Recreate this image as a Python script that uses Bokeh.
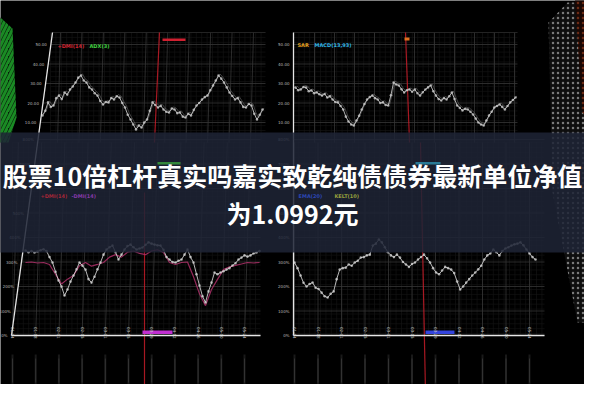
import numpy as np
from bokeh.plotting import figure
from bokeh.models import Range1d
from bokeh.embed import file_html
from bokeh.resources import INLINE
from bokeh.core.properties import value

# ---------------- data ----------------
title_line1 = "股票10倍杠杆真实吗嘉实致乾纯债债券最新单位净值"
title_line2 = "为1.0992元"

# top-left panel (+DMI / ADX)
tl_values = [13.6, 16.0, 20.3, 18.0, 18.7, 22.5, 23.8, 22.0, 25.4, 24.3, 26.9, 28.5, 30.5, 33.0,
             34.1, 31.5, 30.5, 28.0, 26.9, 25.0, 23.8, 21.0, 19.2, 20.5, 20.3, 22.6, 21.8, 23.5,
             22.8, 20.0, 17.7, 14.0, 11.5, 9.0, 6.4, 8.5, 7.4, 10.0, 11.5, 16.0, 20.3, 19.0, 17.7,
             18.5, 16.7, 15.5, 15.1, 17.2, 16.7, 14.8, 15.1, 13.0, 12.6, 14.5, 13.6, 16.5, 18.7,
             20.0, 21.8, 23.0, 23.8, 26.5, 29.0, 31.5, 34.1, 32.5, 30.5, 28.0, 25.4, 23.6, 21.8,
             22.5, 20.3, 18.0, 17.7, 19.5, 18.7, 14.5, 11.5, 14.0, 16.7]
# top-right panel (SAR / MACD)
tr_values = [27.9, 26.5, 26.9, 28.2, 27.9, 26.0, 26.4, 25.0, 25.4, 24.5, 23.8, 24.6, 22.8, 23.4,
             21.8, 20.5, 20.3, 18.5, 16.7, 13.0, 10.5, 9.0, 8.5, 11.0, 13.5, 16.7, 19.5, 21.8,
             23.0, 23.8, 22.5, 21.8, 20.0, 20.3, 19.0, 18.7, 24.0, 30.5, 29.5, 29.0, 27.0, 25.4,
             26.5, 26.9, 25.8, 26.9, 25.0, 23.8, 25.5, 26.9, 28.0, 29.0, 26.0, 23.8, 22.0, 21.3,
             22.5, 21.8, 23.5, 25.4, 22.0, 18.7, 17.5, 16.2, 17.0, 16.7, 15.5, 14.1, 12.0, 10.0,
             9.0, 8.5, 11.0, 13.6, 15.5, 17.7, 18.5, 19.2, 18.0, 16.7, 18.5, 20.3, 21.5, 22.8]
# bottom-left panel (+DMI / -DMI), percent
bl_white = [347, 340, 345, 339, 343, 348, 352, 345, 320, 298, 260, 225, 200, 163, 188, 220, 245,
            270, 298, 285, 269, 230, 216, 240, 270, 298, 330, 351, 360, 367, 340, 310, 330, 351,
            365, 371, 360, 351, 355, 359, 370, 380, 375, 371, 368, 367, 350, 320, 310, 300, 298,
            305, 310, 330, 351, 320, 298, 250, 204, 160, 135, 180, 216, 257, 250, 257, 262, 269,
            275, 286, 295, 310, 318, 327, 322, 327, 335, 339, 345]
bl_pink = [298, 300, 296, 298, 290, 250, 210, 230, 245, 285, 298, 283, 290, 298, 320, 330, 320,
           340, 345, 335, 330, 345, 350, 339, 298, 290, 298, 300, 240, 170, 122, 188, 229, 269,
           280, 286, 292, 298, 296, 298]
# bottom-right panel (EMA / KELT), percent
br_values = [298, 275, 245, 215, 200, 210, 216, 195, 190, 175, 160, 155, 170, 180, 230, 269, 275,
             277, 290, 285, 298, 305, 318, 320, 327, 330, 367, 375, 392, 380, 360, 340, 327, 320,
             330, 318, 300, 290, 280, 292, 298, 310, 320, 330, 315, 298, 275, 257, 250, 265, 280,
             275, 269, 255, 220, 188, 200, 216, 230, 245, 257, 270, 285, 310, 327, 335, 351, 340,
             327, 345, 355, 360, 367, 372, 375, 380, 368, 351, 335, 320, 310]

top_ticks = [10, 20, 30, 40, 50]
top_tick_labels = ["10.00", "20.00", "30.00", "40.00", "50.00"]
bottom_ticks = [0, 100, 200, 300, 400, 500, 600, 700, 800]
bottom_tick_labels = ["0%", "100%", "200%", "300%", "400%", "500%", "600%", "700%", "800%"]
date_labels = ["01-04", "01-18", "02-01", "02-15", "03-01", "03-15",
               "03-29", "04-12", "04-26", "05-10", "05-24"]

legend_tl = ["+DMI(14)", "ADX(3)"]
legend_tl_colors = ["#d2232f", "#3fd23f"]
legend_tr = ["SAR", "MACD(13,93)"]
legend_tr_colors = ["#e6a01e", "#2fb4e6"]
legend_bl = ["+DMI(14)", "-DMI(14)"]
legend_bl_colors = ["#c8283a", "#a040c8"]
legend_br = ["EMA(20)", "KELT(10)"]
legend_br_colors = ["#3050d8", "#b8c040"]

# ---------------- helpers (layout) ----------------
def ymap_top(v):
    return 130 + (np.asarray(v, dtype=float) - 10) * (52 - 130) / (50 - 10)

def ymap_bot(v):
    return 343 + (np.asarray(v, dtype=float) - 0) * (269.5 - 343) / 300.0

def axis_x(y):
    # tilted left axis of the left panels
    return 60 - (np.asarray(y, dtype=float) - 40) * 41.0 / 303.0

p = figure(width=584, height=384, x_range=Range1d(8, 592), y_range=Range1d(392, 8),
           output_backend="svg", toolbar_location=None, min_border=0,
           x_axis_location=None, y_axis_location=None,
           background_fill_color="#000000", border_fill_color="#000000",
           outline_line_color=None)
p.grid.visible = False

# ---------------- decorations at the edges ----------------
p.patch([0, 20, 24, 16, 0], [18, 36, 125, 150, 150], fill_color="#061a08", fill_alpha=1,
        line_color=None, hatch_pattern="/", hatch_color="#1a8a24", hatch_weight=3, hatch_scale=8)
p.patch([556, 575, 600, 600, 585, 560], [30, 10, 10, 330, 330, 200], fill_color="#0e0e0e",
        line_color=None, hatch_pattern=".", hatch_color="#7a7a7a", hatch_scale=5, hatch_weight=1.8)
p.patch([582, 600, 600, 590], [0, 0, 130, 120], fill_color="#1a0804", line_color=None,
        hatch_pattern=".", hatch_color="#6a2a14", hatch_scale=5, hatch_weight=1.8)

# ---------------- grids ----------------
minor = "#161616"
major = "#363636"
for (x0, x1, y0, y1) in [(58, 273, 40, 150), (301, 525, 40, 150), (20, 268, 150, 343), (301, 552, 150, 343)]:
    xs = np.arange(x0, x1, 5.4)
    ys = np.arange(y0, y1, 4.9)
    p.segment(xs, [y0] * len(xs), xs, [y1] * len(xs), line_color=minor, line_width=0.6)
    p.segment([x0] * len(ys), ys, [x1] * len(ys), ys, line_color=minor, line_width=0.6)

tl_vx = np.linspace(68, 261, 10)
p.segment(tl_vx, [40] * 10, tl_vx - 3, [150] * 10, line_color=major, line_width=0.8)
tr_vx = np.linspace(322, 522, 11)
p.segment(tr_vx, [40] * 11, tr_vx, [150] * 11, line_color=major, line_width=0.8)
bl_vx = np.linspace(20, 252, 11)
p.segment(bl_vx + 6, [150] * 11, bl_vx, [343] * 11, line_color=major, line_width=0.8)
br_vx = np.linspace(302, 537, 11)
p.segment(br_vx, [150] * 11, br_vx, [343] * 11, line_color=major, line_width=0.8)

ty = ymap_top(top_ticks)
p.segment(axis_x(ty), ty, [273] * len(ty), ty, line_color=major, line_width=0.8)
p.segment([301] * len(ty), ty, [525] * len(ty), ty, line_color=major, line_width=0.8)
p.segment([60, 301], [40, 40], [273, 525], [40, 40], line_color="#2a2a2a", line_width=0.8)
by = ymap_bot(bottom_ticks)
p.segment(axis_x(by), by, [268] * len(by), by, line_color=major, line_width=0.8)
p.segment([301] * len(by), by, [552] * len(by), by, line_color=major, line_width=0.8)

# ---------------- red markers ----------------
p.segment([167, 413, 152, 428], [40, 40, 200, 150], [162, 417, 152, 433], [150, 150, 400, 400],
          line_color="#c41c28", line_width=1.2, alpha=0.85)
p.quad(left=[170, 150, 433], right=[193, 180, 462], top=[46, 338, 338], bottom=[48.5, 341.5, 341.5],
       fill_color=["#d02030", "#c02fd0", "#3344dd"], line_color=None)
p.quad(left=[412], right=[417], top=[45], bottom=[48], fill_color="#e07020", line_color=None)

# ---------------- series ----------------
def draw(xs, ys, color, width=1.0, alpha=0.85, dots=True):
    p.line(xs, ys, line_color=color, line_width=width, line_alpha=alpha)
    if dots:
        p.scatter(xs, ys, size=2.6, fill_color=color, line_color=None, fill_alpha=0.75)

tl_x = np.linspace(50, 270, len(tl_values))
draw(tl_x + 1.5, ymap_top(np.asarray(tl_values) + 0.8), "#808080", width=0.8, alpha=0.6, dots=False)
draw(tl_x, ymap_top(tl_values), "#cfcfcf")

tr_x = np.linspace(303, 523, len(tr_values))
draw(tr_x + 1.5, ymap_top(np.asarray(tr_values) + 0.8), "#808080", width=0.8, alpha=0.6, dots=False)
draw(tr_x, ymap_top(tr_values), "#cfcfcf")

bl_px = np.linspace(33, 267, len(bl_pink))
p.line(bl_px, ymap_bot(bl_pink), line_color="#b0306a", line_width=1.2, line_alpha=0.85)
bl_x = np.linspace(33, 267, len(bl_white))
draw(bl_x, ymap_bot(bl_white), "#d8d8d8")

br_x = np.linspace(302, 543, len(br_values))
draw(br_x, ymap_bot(br_values), "#d8d8d8")

# ---------------- axes ----------------
p.segment([60, 301, 19, 301], [40, 40, 343, 343], [19, 301, 268, 552], [343, 343, 343, 343],
          line_color="#e6e6e6", line_width=1.3)

small = dict(text_font=value("DejaVu Sans"), text_font_size="4px", text_color="#b8b8b8",
             text_baseline="middle")
p.text(axis_x(ty) - 4, ty, text=top_tick_labels, text_align="right", **small)
p.text([297] * len(ty), ty, text=top_tick_labels, text_align="right", **small)
p.text(axis_x(by) - 4, by, text=bottom_tick_labels, text_align="right", **small)
p.text([297] * len(by), by, text=bottom_tick_labels, text_align="right", **small)

p.text(bl_vx, [346] * 11, text=date_labels, angle=-np.pi / 2, text_align="right",
       text_font=value("DejaVu Sans"), text_font_size="4px", text_color="#d0d0d0",
       text_baseline="middle")
p.text(br_vx, [346] * 11, text=date_labels, angle=-np.pi / 2, text_align="right",
       text_font=value("DejaVu Sans"), text_font_size="4px", text_color="#d0d0d0",
       text_baseline="middle")

allx = np.concatenate([bl_vx, br_vx])
p.segment(allx, [362] * 22, allx, [398] * 22, line_color="#9a9a9a", line_width=2, line_alpha=0.16)
p.segment(allx, [366] * 22, allx, [390] * 22, line_color="#cccccc", line_width=0.8, line_alpha=0.18)

# ---------------- legends ----------------
leg = dict(text_font=value("DejaVu Sans"), text_font_size="5px", text_baseline="middle",
           text_font_style="bold")
p.text([65, 97], [53, 53], text=legend_tl, text_color=legend_tl_colors, **leg)
p.text([305, 322], [52, 52], text=legend_tr, text_color=legend_tr_colors, **leg)

# ---------------- title band ----------------
p.quad(left=[0], right=[600], top=[140], bottom=[260], fill_color="#1e2436", fill_alpha=0.86,
       line_color=None)
p.quad(left=[165, 423], right=[188, 448], top=[169.5, 169.5], bottom=[172, 172],
       fill_color=["#3fb43f", "#2fa0c0"], fill_alpha=0.7, line_color=None)
p.text([48, 79], [203, 203], text=legend_bl, text_color=legend_bl_colors, alpha=0.8, **leg)
p.text([306, 342], [203, 203], text=legend_br, text_color=legend_br_colors, alpha=0.8, **leg)

p.text([300, 300], [182, 220], text=[title_line1, title_line2], text_align="center",
       text_baseline="middle", text_font=value("Noto Sans CJK SC"), text_font_style="bold",
       text_font_size="25px", text_color="#ffffff")

open("out.html", "w").write(file_html(p, INLINE))
